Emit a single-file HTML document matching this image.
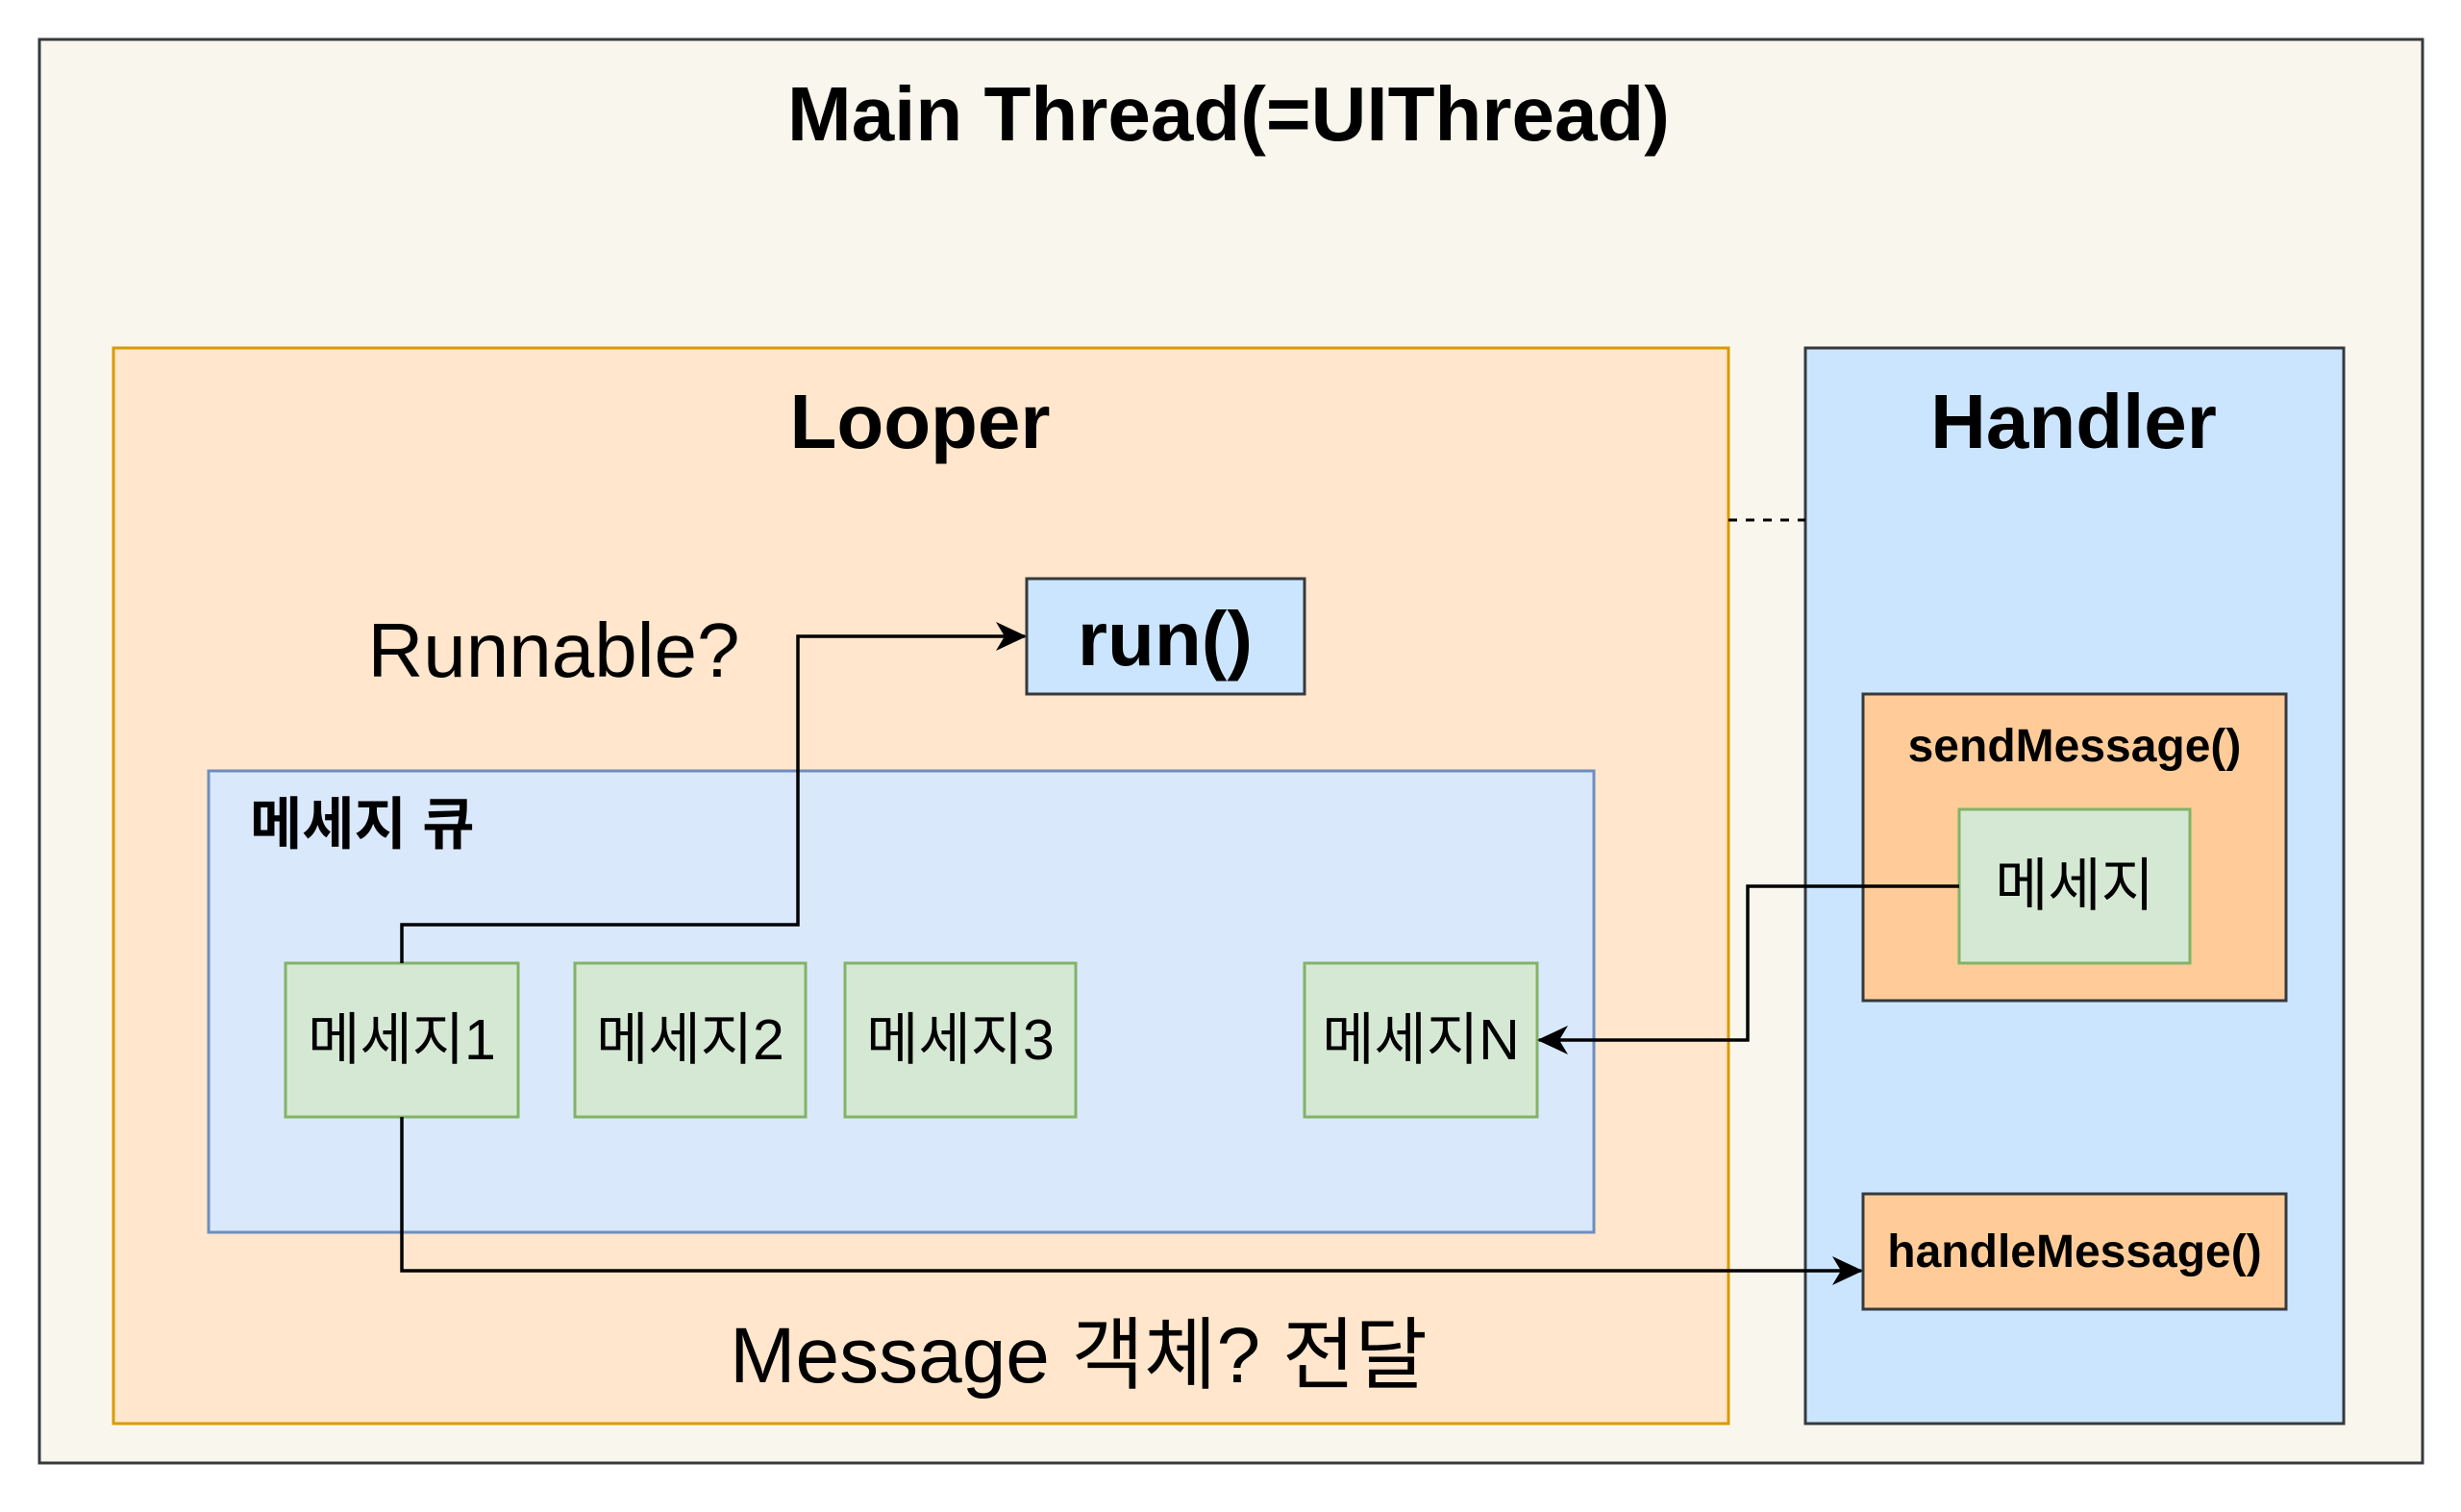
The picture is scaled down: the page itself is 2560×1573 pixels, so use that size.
<!DOCTYPE html>
<html><head><meta charset="utf-8"><style>
body{margin:0;width:2560px;height:1568px;background:#fff;overflow:hidden}
svg text{font-family:"Liberation Sans","Noto Sans CJK KR",sans-serif}
</style></head><body>
<svg width="2560" height="1568" viewBox="0 0 2560 1568" xmlns="http://www.w3.org/2000/svg">
<defs>
<marker id="b" markerWidth="34" markerHeight="34" refX="30" refY="17" orient="auto" markerUnits="userSpaceOnUse"><path d="M0,2 L32,17 L0,32 L9,17 Z" fill="#000"/></marker></defs>
<rect x="41" y="41" width="2479" height="1481" fill="#f9f7ed" stroke="#36393d" stroke-width="3"/>
<text x="1278" y="146" font-size="80" font-weight="bold" text-anchor="middle">Main Thread(=UIThread)</text>
<rect x="118" y="362" width="1680" height="1119" fill="#ffe6cc" stroke="#d79b00" stroke-width="3"/>
<text x="957" y="466" font-size="80" font-weight="bold" text-anchor="middle">Looper</text>
<rect x="1878" y="362" width="560" height="1119" fill="#cce5ff" stroke="#36393d" stroke-width="3"/>
<text x="2157" y="466" font-size="80" font-weight="bold" text-anchor="middle">Handler</text>
<line x1="1798" y1="541" x2="1878" y2="541" stroke="#000" stroke-width="3" stroke-dasharray="9,9"/>
<rect x="1068" y="602" width="289" height="120" fill="#cce5ff" stroke="#36393d" stroke-width="3"/>
<text x="1212" y="692" font-size="80" font-weight="bold" text-anchor="middle">run()</text>
<text x="576" y="704" font-size="80" text-anchor="middle">Runnable?</text>
<rect x="217" y="802" width="1441" height="480" fill="#dae8fc" stroke="#6c8ebf" stroke-width="3"/>
<text x="260" y="878" font-size="59" font-weight="bold">메세지 큐</text>
<g fill="#d5e8d4" stroke="#82b366" stroke-width="3">
<rect x="297" y="1002" width="242" height="160"/><rect x="598" y="1002" width="240" height="160"/>
<rect x="879" y="1002" width="240" height="160"/><rect x="1357" y="1002" width="242" height="160"/>
</g>
<g font-size="59" text-anchor="middle">
<text x="418" y="1102">메세지1</text><text x="718" y="1102">메세지2</text>
<text x="999" y="1102">메세지3</text><text x="1478" y="1102">메세지N</text>
</g>
<rect x="1938" y="722" width="440" height="319" fill="#ffcc99" stroke="#36393d" stroke-width="3"/>
<text x="2158" y="792" font-size="48" font-weight="bold" text-anchor="middle">sendMessage()</text>
<rect x="2038" y="842" width="240" height="160" fill="#d5e8d4" stroke="#82b366" stroke-width="3"/>
<text x="2158" y="942" font-size="60" text-anchor="middle">메세지</text>
<rect x="1938" y="1242" width="440" height="120" fill="#ffcc99" stroke="#36393d" stroke-width="3"/>
<text x="2158" y="1318" font-size="48" font-weight="bold" text-anchor="middle">handleMessage()</text>
<g fill="none" stroke="#000" stroke-width="3.5">
<polyline points="418,1002 418,962 830,962 830,662 1066,662" marker-end="url(#b)"/>
<polyline points="2038,922 1818,922 1818,1082 1601,1082" marker-end="url(#b)"/>
<polyline points="418,1162 418,1322 1936,1322" marker-end="url(#b)"/>
</g>
<text x="1122" y="1438" font-size="82" text-anchor="middle">Message 객체? 전달</text>
</svg>
</body></html>
